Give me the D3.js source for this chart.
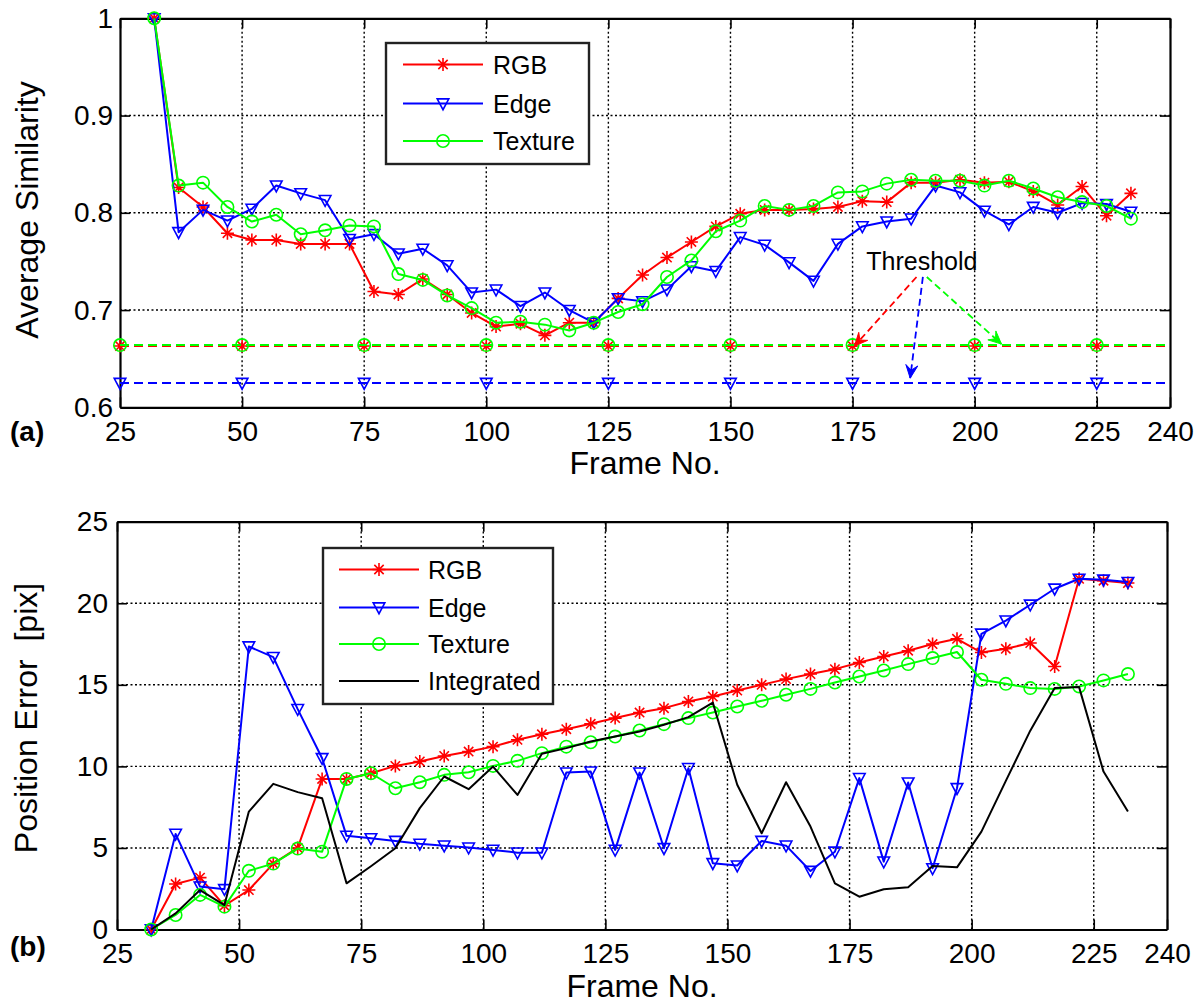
<!DOCTYPE html>
<html><head><meta charset="utf-8">
<script src="https://cdn.jsdelivr.net/npm/d3@7"></script>
<style>
body{margin:0;background:#fff;}
svg{display:block;font-family:"Liberation Sans",Arial,sans-serif;}
</style></head>
<body><svg id="chart" width="1201" height="1005"></svg>
<script>
// ---------------- DATA ----------------
const frames = [32,37,42,47,52,57,62,67,72,77,82,87,92,97,102,107,112,117,122,127,132,137,142,147,152,157,162,167,172,177,182,187,192,197,202,207,212,217,222,227,232];

// (a) Average similarity
const simRGB = [1.000,0.826,0.806,0.779,0.772,0.772,0.768,0.768,0.768,0.719,0.716,0.732,0.716,0.697,0.683,0.686,0.674,0.687,0.687,0.712,0.736,0.754,0.770,0.786,0.799,0.803,0.803,0.804,0.806,0.812,0.811,0.831,0.831,0.834,0.831,0.832,0.822,0.808,0.827,0.797,0.820];
const simEdge = [1.000,0.780,0.803,0.792,0.804,0.828,0.820,0.813,0.773,0.778,0.758,0.763,0.746,0.718,0.721,0.704,0.718,0.700,0.687,0.712,0.709,0.721,0.745,0.740,0.775,0.767,0.749,0.730,0.768,0.786,0.791,0.794,0.828,0.821,0.802,0.788,0.806,0.800,0.810,0.809,0.801];
const simTexture = [1.000,0.828,0.831,0.806,0.791,0.798,0.778,0.782,0.787,0.786,0.737,0.731,0.715,0.702,0.687,0.688,0.685,0.679,0.687,0.698,0.706,0.734,0.751,0.781,0.792,0.807,0.803,0.807,0.821,0.822,0.830,0.834,0.833,0.833,0.828,0.833,0.825,0.816,0.811,0.807,0.794];

// thresholds
const thresholdFrames = [25,50,75,100,125,150,175,200,225];
const thresholdRGB = 0.663;
const thresholdTexture = 0.664;
const thresholdEdge = 0.625;

// (b) Position error [pix]
const errRGB = [0,2.79,3.18,1.46,2.42,4.04,5.00,9.23,9.23,9.58,10.03,10.30,10.64,10.91,11.21,11.63,11.97,12.28,12.61,12.96,13.30,13.57,13.98,14.28,14.65,15.00,15.35,15.66,15.96,16.37,16.74,17.09,17.50,17.82,16.98,17.21,17.56,16.12,21.50,21.38,21.24];
const errEdge = [0,5.86,2.63,2.47,17.35,16.70,13.51,10.50,5.74,5.59,5.43,5.25,5.14,5.02,4.88,4.71,4.71,9.62,9.68,4.88,9.62,4.98,9.89,4.06,3.92,5.43,5.14,3.59,4.77,9.28,4.16,9.01,3.75,8.66,18.13,18.94,19.91,20.89,21.50,21.44,21.30];
const errTexture = [0,0.89,2.12,1.40,3.60,4.04,4.96,4.77,9.23,9.58,8.66,9.03,9.48,9.64,10.03,10.34,10.81,11.21,11.48,11.83,12.20,12.59,12.96,13.30,13.67,14.02,14.39,14.75,15.14,15.51,15.88,16.27,16.64,17.01,15.31,15.06,14.80,14.75,14.90,15.27,15.66];
const errIntegrated = [0,0.99,2.42,1.50,7.23,8.93,8.42,8.05,2.83,3.88,4.98,7.44,9.38,8.60,9.99,8.25,10.77,11.12,11.52,11.83,12.14,12.55,13.02,13.91,8.87,5.90,9.03,6.31,2.83,2.01,2.47,2.59,3.90,3.81,6.00,9.11,12.19,14.80,14.86,9.68,7.23];

// ticks
const xTicks = [25,50,75,100,125,150,175,200,225,240];
const yTicksA = [0.6,0.7,0.8,0.9,1];
const yTicksB = [0,5,10,15,20,25];
const xLabel = "Frame No.";
const yLabelA = "Average Similarity";
const yLabelB = "Position Error  [pix]";

// ---------------- DRAW ----------------
const svg = d3.select("#chart");
svg.append("rect").attr("width",1201).attr("height",1005).attr("fill","#fff");

const RED="#ff0000", BLUE="#0000ff", GREEN="#00ff00", BLACK="#000";

function marker(g, type, color, cx, cy){
  if(type==="star"){
    const r=6.5, d=r*0.72;
    g.append("path").attr("d",`M${cx-r},${cy}H${cx+r}M${cx},${cy-r}V${cy+r}M${cx-d},${cy-d}L${cx+d},${cy+d}M${cx-d},${cy+d}L${cx+d},${cy-d}`)
      .attr("stroke",color).attr("stroke-width",1.6).attr("fill","none");
  } else if(type==="tri"){
    g.append("path").attr("d",`M${cx-5.8},${cy-4.6}L${cx+5.8},${cy-4.6}L${cx},${cy+6.2}Z`)
      .attr("stroke",color).attr("stroke-width",1.6).attr("fill","none");
  } else if(type==="circ"){
    g.append("circle").attr("cx",cx).attr("cy",cy).attr("r",6.2)
      .attr("stroke",color).attr("stroke-width",1.6).attr("fill","none");
  }
}

function panel(cfg){
  const g = svg.append("g");
  const x = d3.scaleLinear().domain([25,240]).range(cfg.xr);
  const y = d3.scaleLinear().domain(cfg.yd).range(cfg.yr);
  // grid
  const gg = g.append("g").attr("stroke","#000").attr("stroke-width",1.4).attr("stroke-dasharray","2,2.5");
  xTicks.filter(t=>t>25&&t<240).forEach(t=>{
    gg.append("line").attr("x1",x(t)).attr("x2",x(t)).attr("y1",cfg.yr[0]).attr("y2",cfg.yr[1]);
  });
  cfg.yTicks.filter(t=>t>cfg.yd[0]&&t<cfg.yd[1]).forEach(t=>{
    gg.append("line").attr("y1",y(t)).attr("y2",y(t)).attr("x1",cfg.xr[0]).attr("x2",cfg.xr[1]);
  });
  // axes
  const fmt = cfg.fmt;
  const ax = (gen, tr, labels, pad) => {
    const a = g.append("g").attr("transform",tr).call(gen.tickSizeInner(-10).tickSizeOuter(0).tickPadding(pad).tickFormat(labels?fmt.tick:()=>""));
    a.select(".domain").attr("stroke","#000").attr("stroke-width",2.2);
    a.selectAll(".tick line").attr("stroke","#000").attr("stroke-width",1.6);
    a.selectAll("text").attr("font-size",28).attr("fill","#000").attr("font-family","'Liberation Sans',Arial,sans-serif");
    return a;
  };
  ax(d3.axisBottom(x).tickValues(xTicks), `translate(0,${cfg.yr[0]})`, true, 14).selectAll("text").text(d=>d);
  ax(d3.axisTop(x).tickValues(xTicks), `translate(0,${cfg.yr[1]})`, false, 4);
  ax(d3.axisLeft(y).tickValues(cfg.yTicks), `translate(${cfg.xr[0]},0)`, true, cfg.ypad);
  ax(d3.axisRight(y).tickValues(cfg.yTicks), `translate(${cfg.xr[1]},0)`, false, 4);
  return {g,x,y};
}

function series(p, vals, color, mtype){
  const line = d3.line().x((d,i)=>p.x(frames[i])).y(d=>p.y(d));
  p.g.append("path").datum(vals).attr("d",line).attr("fill","none").attr("stroke",color).attr("stroke-width",2).attr("stroke-linejoin","round");
  if(mtype){ const mg=p.g.append("g"); vals.forEach((v,i)=>marker(mg,mtype,color,p.x(frames[i]),p.y(v))); }
}

function thresholdLine(p, val, color, mtype){
  p.g.append("line").attr("x1",p.x(25)).attr("x2",p.x(240)).attr("y1",p.y(val)).attr("y2",p.y(val))
    .attr("stroke",color).attr("stroke-width",2).attr("stroke-dasharray","9,5");
  const mg=p.g.append("g");
  thresholdFrames.forEach(f=>marker(mg,mtype,color,p.x(f),p.y(val)));
}

function legend(items, box, lx1, lx2, tx, ys){
  const lg = svg.append("g");
  lg.append("rect").attr("x",box[0]).attr("y",box[1]).attr("width",box[2]).attr("height",box[3])
    .attr("fill","#fff").attr("stroke","#222").attr("stroke-width",2.4);
  items.forEach((it,i)=>{
    lg.append("line").attr("x1",lx1).attr("x2",lx2).attr("y1",ys[i]).attr("y2",ys[i]).attr("stroke",it.c).attr("stroke-width",2);
    if(it.m) marker(lg,it.m,it.c,(lx1+lx2)/2,ys[i]);
    lg.append("text").attr("x",tx).attr("y",ys[i]).attr("dy","0.36em").attr("font-size",25).attr("fill","#000").text(it.n);
  });
}

// ---- Panel (a)
const pa = panel({xr:[120,1170], yd:[0.6,1], yr:[407.3,18.3], yTicks:yTicksA, ypad:7,
  fmt:{tick:d=>d===1?"1":d3.format(".1f")(d)}});
thresholdLine(pa, thresholdRGB, RED, "star");
thresholdLine(pa, thresholdTexture, GREEN, "circ");
thresholdLine(pa, thresholdEdge, BLUE, "tri");
series(pa, simRGB, RED, "star");
series(pa, simEdge, BLUE, "tri");
series(pa, simTexture, GREEN, "circ");

// Threshold annotation (anchored in data units)
function arrow(p, f0, v0, f1, v1, color){
  const x0=p.x(f0), y0=p.y(v0), x1=p.x(f1), y1=p.y(v1);
  p.g.append("line").attr("x1",x0).attr("y1",y0).attr("x2",x1).attr("y2",y1)
    .attr("stroke",color).attr("stroke-width",1.8).attr("stroke-dasharray","7,4");
  const ang=Math.atan2(y1-y0,x1-x0), L=13, Wd=6, n=8;
  const bx=x1-L*Math.cos(ang), by=y1-L*Math.sin(ang);
  const nx=x1-n*Math.cos(ang), ny=y1-n*Math.sin(ang);
  const px=-Math.sin(ang), py=Math.cos(ang);
  p.g.append("path").attr("d",`M${x1},${y1}L${bx+px*Wd},${by+py*Wd}L${nx},${ny}L${bx-px*Wd},${by-py*Wd}Z`).attr("fill",color).attr("stroke",color).attr("stroke-width",1);
}
pa.g.append("text").attr("x",pa.x(189.2)).attr("y",pa.y(0.741)).attr("text-anchor","middle").attr("font-size",25).attr("fill","#000").text("Threshold");
arrow(pa,188.1,0.734,175.4,thresholdRGB,RED);
arrow(pa,189.4,0.734,186.8,0.630,BLUE);
arrow(pa,190.2,0.734,205.5,0.665,GREEN);

legend([{n:"RGB",c:RED,m:"star"},{n:"Edge",c:BLUE,m:"tri"},{n:"Texture",c:GREEN,m:"circ"}],
  [386,43,203,121], 403, 483, 493, [64.5,103.5,141]);

svg.append("text").attr("x",27).attr("y",210).attr("transform","rotate(-90,27,210)").attr("text-anchor","middle").attr("dy","0.35em").attr("font-size",32).text(yLabelA);
svg.append("text").attr("x",645).attr("y",474).attr("text-anchor","middle").attr("font-size",32).text(xLabel);
svg.append("text").attr("x",10).attr("y",441).attr("font-size",28).attr("font-weight","bold").text("(a)");

// ---- Panel (b)
const pb = panel({xr:[117,1167], yd:[0,25], yr:[929.5,521.7], yTicks:yTicksB, ypad:9, fmt:{tick:d=>d}});
series(pb, errRGB, RED, "star");
series(pb, errEdge, BLUE, "tri");
series(pb, errTexture, GREEN, "circ");
series(pb, errIntegrated, BLACK, null);

legend([{n:"RGB",c:RED,m:"star"},{n:"Edge",c:BLUE,m:"tri"},{n:"Texture",c:GREEN,m:"circ"},{n:"Integrated",c:BLACK,m:null}],
  [323,548,230,156], 339, 419, 428, [569.5,607.5,644,681]);

svg.append("text").attr("x",26).attr("y",718).attr("transform","rotate(-90,26,718)").attr("text-anchor","middle").attr("dy","0.35em").attr("font-size",32).style("white-space","pre").attr("xml:space","preserve").text(yLabelB);
svg.append("text").attr("x",642).attr("y",997).attr("text-anchor","middle").attr("font-size",32).text(xLabel);
svg.append("text").attr("x",10).attr("y",956).attr("font-size",28).attr("font-weight","bold").text("(b)");
</script></body></html>
